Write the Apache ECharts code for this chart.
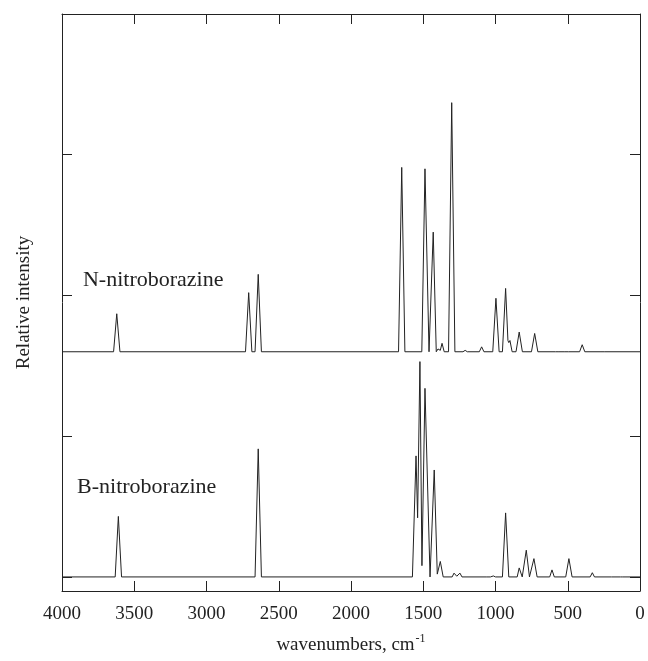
<!DOCTYPE html>
<html>
<head>
<meta charset="utf-8">
<script src="https://cdn.jsdelivr.net/npm/echarts@6/dist/echarts.min.js"></script>
<style>
  html, body { margin: 0; padding: 0; background: #fff; }
  #chart { width: 648px; height: 661px; }
</style>
</head>
<body>
<div id="chart"></div>
<script>
// wavenumber (cm-1), relative intensity above each trace's baseline
const nNitroPoints = [
  [4000, 0],
  [3643, 0], [3621, 0.27], [3599, 0],
  [2730, 0], [2708, 0.42], [2686, 0], [2664, 0], [2642, 0.55], [2620, 0],
  [1671, 0], [1649, 1.31], [1627, 0],
  [1510, 0], [1488, 1.30], [1460, 0], [1431, 0.85], [1410, 0],
  [1398, 0.02], [1390, 0.03], [1382, 0.01], [1370, 0.06], [1355, 0],
  [1325, 0], [1303, 1.77], [1281, 0],
  [1225, 0], [1210, 0.01], [1195, 0],
  [1112, 0], [1096, 0.035], [1080, 0],
  [1019, 0], [997, 0.38], [975, 0],
  [952, 0], [930, 0.45], [914, 0.08], [908, 0.065], [900, 0.08], [885, 0],
  [858, 0], [836, 0.14], [814, 0],
  [751, 0], [729, 0.13], [707, 0],
  [585, 0], [573, 0.01], [561, 0],
  [520, 0], [508, 0.01], [496, 0],
  [418, 0], [400, 0.05], [382, 0],
  [270, 0], [259, 0.005], [248, 0],
  [0, 0]
];
const bNitroPoints = [
  [4000, 0],
  [3632, 0], [3610, 0.43], [3588, 0],
  [2664, 0], [2642, 0.91], [2620, 0],
  [1575, 0], [1550, 0.86], [1539, 0.42], [1523, 1.53], [1509, 0.08],
  [1488, 1.34], [1453, 0], [1446, 0], [1424, 0.76], [1403, 0.02], [1382, 0.11], [1362, 0],
  [1300, 0], [1287, 0.027], [1268, 0.005], [1246, 0.027], [1232, 0],
  [1060, 0], [1052, 0.007], [1035, 0], [1015, 0.007], [1000, 0],
  [952, 0], [930, 0.455], [908, 0],
  [850, 0], [836, 0.064], [815, 0], [805, 0], [787, 0.19], [765, 0],
  [755, 0], [734, 0.13], [712, 0],
  [625, 0], [609, 0.05], [593, 0],
  [514, 0], [492, 0.13], [470, 0],
  [345, 0], [330, 0.03], [315, 0],
  [197, 0], [185, 0.014], [173, 0],
  [135, 0], [127, 0.004], [119, 0],
  [0, 0]
];
const nBaseline = 1.6;
const bBaseline = 0;
const traceNames = ['N-nitroborazine', 'B-nitroborazine'];
const labelAnchors = [[3855, 2.11], [3896, 0.64]];

const serif = 'Liberation Serif';
const ink = '#222';

const chart = echarts.init(document.getElementById('chart'));

function lift(points, base) {
  return points.map(p => [p[0], p[1] + base]);
}

function traceSeries(name, points, anchor) {
  return {
    name: name,
    type: 'line',
    data: points,
    showSymbol: false,
    smooth: false,
    lineStyle: { color: ink, width: 1 },
    silent: true,
    markPoint: {
      symbol: 'circle',
      symbolSize: 0,
      data: [{ coord: anchor }],
      label: {
        show: true,
        position: 'right',
        distance: 0,
        formatter: name,
        fontFamily: serif,
        fontSize: 22,
        color: ink
      }
    }
  };
}

const xBase = {
  type: 'value',
  min: 0,
  max: 4000,
  interval: 500,
  inverse: true,
  splitLine: { show: false },
  axisLine: { onZero: false, lineStyle: { color: ink, width: 1 } },
  axisTick: { inside: true, length: 10, lineStyle: { color: ink } }
};
const yBase = {
  type: 'value',
  min: -0.1,
  max: 4,
  splitNumber: 4,
  splitLine: { show: false },
  axisLabel: { show: false },
  axisLine: { show: true, onZero: false, lineStyle: { color: ink, width: 1 } },
  axisTick: { inside: true, length: 10, lineStyle: { color: ink } }
};

chart.setOption({
  animation: false,
  grid: { left: 62, right: 8, top: 14, bottom: 70 },
  xAxis: [
    Object.assign({}, xBase, {
      position: 'bottom',
      name: '{a|wavenumbers, cm}{b|-1}',
      nameLocation: 'middle',
      nameGap: 42,
      nameTextStyle: {
        rich: {
          a: { fontFamily: serif, fontSize: 19, color: ink },
          b: { fontFamily: serif, fontSize: 12, color: ink, verticalAlign: 'top', padding: [0, 0, 12, 1] }
        }
      },
      axisLabel: {
        fontFamily: serif, fontSize: 19, color: ink, margin: 14,
        formatter: v => String(v)
      }
    }),
    Object.assign({}, xBase, {
      position: 'top',
      axisLabel: { show: false }
    })
  ],
  yAxis: [
    Object.assign({}, yBase, {
      position: 'left',
      name: 'Relative intensity',
      nameLocation: 'middle',
      nameGap: 28,
      nameTextStyle: { fontFamily: serif, fontSize: 19, color: ink }
    }),
    Object.assign({}, yBase, { position: 'right' })
  ],
  series: [
    traceSeries(traceNames[0], lift(nNitroPoints, nBaseline), labelAnchors[0]),
    traceSeries(traceNames[1], lift(bNitroPoints, bBaseline), labelAnchors[1])
  ]
});
</script>
</body>
</html>
